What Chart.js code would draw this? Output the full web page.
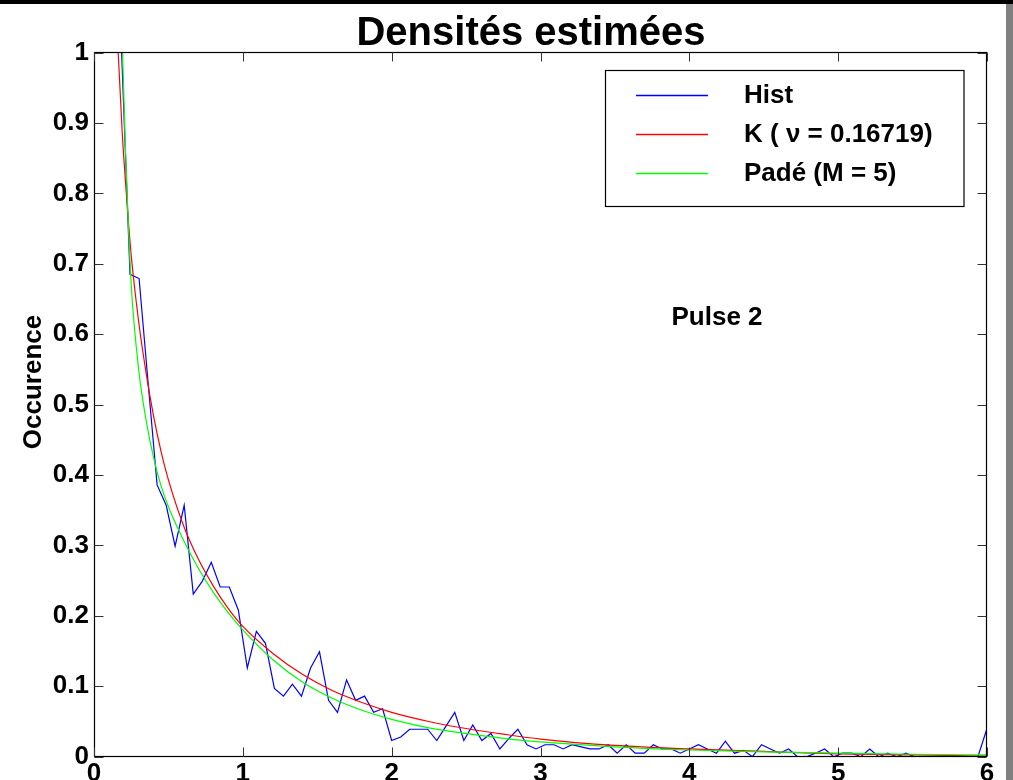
<!DOCTYPE html>
<html lang="fr">
<head>
<meta charset="utf-8">
<title>Densités estimées</title>
<script src="https://cdn.jsdelivr.net/npm/chart.js@4.4.1/dist/chart.umd.min.js"></script>
<style>
  html, body { margin: 0; padding: 0; background: #fff; }
  canvas { display: block; }
</style>
</head>
<body>
<canvas id="densityChart" width="1013" height="780"></canvas>
<script>
// Histogram: 100 bin positions between 0 and 6
const histX = [
  0, 0.061, 0.121, 0.182, 0.242, 0.303, 0.364, 0.424, 0.485, 0.545,
  0.606, 0.667, 0.727, 0.788, 0.848, 0.909, 0.970, 1.030, 1.091, 1.152,
  1.212, 1.273, 1.333, 1.394, 1.455, 1.515, 1.576, 1.636, 1.697, 1.758,
  1.818, 1.879, 1.939, 2.000, 2.061, 2.121, 2.182, 2.242, 2.303, 2.364,
  2.424, 2.485, 2.545, 2.606, 2.667, 2.727, 2.788, 2.848, 2.909, 2.970,
  3.030, 3.091, 3.152, 3.212, 3.273, 3.333, 3.394, 3.455, 3.515, 3.576,
  3.636, 3.697, 3.758, 3.818, 3.879, 3.939, 4.000, 4.061, 4.121, 4.182,
  4.242, 4.303, 4.364, 4.424, 4.485, 4.545, 4.606, 4.667, 4.727, 4.788,
  4.848, 4.909, 4.970, 5.030, 5.091, 5.152, 5.212, 5.273, 5.333, 5.394,
  5.455, 5.515, 5.576, 5.636, 5.697, 5.758, 5.818, 5.879, 5.939, 6.000
];
const histY = [
  3.0, 2.0, 1.4, 1.02, 0.685, 0.679, 0.53, 0.386, 0.357, 0.299,
  0.357, 0.231, 0.249, 0.276, 0.241, 0.241, 0.208, 0.126, 0.178, 0.161,
  0.097, 0.086, 0.103, 0.086, 0.126, 0.149, 0.080, 0.063, 0.109, 0.080,
  0.086, 0.063, 0.068, 0.023, 0.028, 0.039, 0.039, 0.039, 0.023, 0.043,
  0.063, 0.023, 0.045, 0.023, 0.033, 0.011, 0.026, 0.039, 0.017, 0.011,
  0.017, 0.017, 0.011, 0.017, 0.014, 0.011, 0.011, 0.017, 0.005, 0.017,
  0.005, 0.005, 0.017, 0.011, 0.011, 0.005, 0.011, 0.017, 0.011, 0.005,
  0.022, 0.005, 0.009, 0, 0.017, 0.011, 0.005, 0.011, 0, 0,
  0.005, 0.011, 0, 0.005, 0.005, 0, 0.011, 0, 0.005, 0,
  0.005, 0, 0, 0, 0, 0, 0, 0, 0, 0.040
];

// K distribution curve
const kX = [0.14, 0.16, 0.19, 0.22, 0.25, 0.30, 0.35, 0.40, 0.45, 0.50,
            0.60, 0.70, 0.80, 0.90, 1.0, 1.2, 1.4, 1.6, 1.8, 2.0,
            2.25, 2.5, 2.75, 3.0, 3.5, 4.0, 4.5, 5.0, 5.5, 6.0];
const kY = [1.12, 1.01, 0.885, 0.792, 0.712, 0.618, 0.545, 0.484, 0.434, 0.393,
            0.329, 0.281, 0.243, 0.211, 0.185, 0.147, 0.117, 0.094, 0.077, 0.063,
            0.050, 0.040, 0.032, 0.025, 0.016, 0.011, 0.0075, 0.004, 0.0025, 0.001];

// Padé approximation curve
const padeX = [0.18, 0.192, 0.21, 0.23, 0.25, 0.30, 0.35, 0.40, 0.45, 0.50,
               0.60, 0.70, 0.80, 0.90, 1.0, 1.2, 1.4, 1.6, 1.8, 2.0,
               2.25, 2.5, 2.75, 3.0, 3.5, 4.0, 4.5, 5.0, 5.5, 6.0];
const padeY = [1.1, 1.0, 0.87, 0.76, 0.67, 0.55, 0.478, 0.425, 0.385, 0.355,
               0.308, 0.268, 0.234, 0.205, 0.18, 0.138, 0.106, 0.083, 0.066, 0.053,
               0.041, 0.033, 0.026, 0.021, 0.014, 0.0095, 0.0068, 0.005, 0.0035, 0.0025];

const xTickValues = [0, 1, 2, 3, 4, 5, 6];
const yTickValues = [0, 0.1, 0.2, 0.3, 0.4, 0.5, 0.6, 0.7, 0.8, 0.9, 1];

const seriesLabels = ["Hist", "K ( \u03bd = 0.16719)", "Padé (M = 5)"];
const seriesColors = ["#0000ff", "#ff0000", "#00ff00"];
const titleText = "Densités estimées";
const yAxisLabel = "Occurence";
const noteText = "Pulse 2";
const noteAt = { x: 3.88, y: 0.613 };

const FONT = "'Liberation Sans', Arial, Helvetica, sans-serif";

const toPoints = (xs, ys) => xs.map((v, i) => ({ x: v, y: ys[i] }));

// MATLAB-like frame: boxed axes, inward ticks, legend box, texts
const matlabFrame = {
    id: "matlabFrame",
    beforeDraw(chart) {
        const { ctx, width, height } = chart;
        ctx.save();
        ctx.fillStyle = "#fff";
        ctx.fillRect(0, 0, width, height);
        ctx.fillStyle = "#000";
        ctx.fillRect(0, 0, width, 4);
        ctx.fillStyle = "#808080";
        ctx.fillRect(width - 7, 4, 7, height - 4);
        ctx.restore();
    },
    afterDatasetsDraw(chart) {
        const { ctx, chartArea: a, scales: { x, y } } = chart;
        const L = Math.round(a.left) + 0.5, R = Math.round(a.right) - 0.5;
        const T = Math.round(a.top) - 0.5, B = Math.round(a.bottom) - 0.5;
        ctx.save();
        ctx.strokeStyle = "#000";
        ctx.lineWidth = 1.2;
        ctx.strokeRect(L, T, R - L, B - T);

        // inward tick marks on all four sides
        ctx.strokeStyle = "#333";
        ctx.lineWidth = 1;
        ctx.beginPath();
        xTickValues.forEach(v => {
            const px = Math.round(x.getPixelForValue(v)) + 0.5;
            ctx.moveTo(px, B); ctx.lineTo(px, B - 9);
            ctx.moveTo(px, T); ctx.lineTo(px, T + 9);
        });
        yTickValues.forEach(v => {
            const py = Math.round(y.getPixelForValue(v)) + 0.5;
            ctx.moveTo(L, py); ctx.lineTo(L + 9, py);
            ctx.moveTo(R, py); ctx.lineTo(R - 9, py);
        });
        ctx.stroke();

        // legend box
        ctx.fillStyle = "#fff";
        ctx.fillRect(605.5, 70.5, 358.5, 136);
        ctx.strokeStyle = "#000";
        ctx.lineWidth = 1.2;
        ctx.strokeRect(605.5, 70.5, 358.5, 136);
        const rows = [95.5, 134.5, 173.5];
        ctx.font = `bold 26px ${FONT}`;
        ctx.textBaseline = "alphabetic";
        ctx.textAlign = "left";
        seriesLabels.forEach((label, i) => {
            ctx.strokeStyle = seriesColors[i];
            ctx.lineWidth = 1.3;
            ctx.beginPath();
            ctx.moveTo(636, rows[i]);
            ctx.lineTo(708, rows[i]);
            ctx.stroke();
            ctx.fillStyle = "#000";
            ctx.fillText(label, 744, rows[i] + 7.5);
        });

        // annotation in data coordinates
        ctx.fillText(noteText, x.getPixelForValue(noteAt.x), y.getPixelForValue(noteAt.y));
        ctx.restore();
    },
    afterDraw(chart) {
        const { ctx } = chart;
        ctx.save();
        ctx.fillStyle = "#000";
        ctx.textAlign = "center";
        ctx.textBaseline = "alphabetic";
        ctx.font = `bold 40px ${FONT}`;
        ctx.fillText(titleText, 531, 45);

        ctx.translate(34, 382);
        ctx.rotate(-Math.PI / 2);
        ctx.font = `bold 26px ${FONT}`;
        ctx.textBaseline = "middle";
        ctx.fillText(yAxisLabel, 0, 0);
        ctx.restore();
    }
};

const tickFont = { family: FONT, size: 26, weight: "bold" };

new Chart(document.getElementById("densityChart"), {
    type: "line",
    data: {
        datasets: [
            {
                label: seriesLabels[0],
                data: toPoints(histX, histY),
                borderColor: seriesColors[0],
                borderWidth: 1.2,
                pointRadius: 0,
                tension: 0,
                order: 3
            },
            {
                label: seriesLabels[1],
                data: toPoints(kX, kY),
                borderColor: seriesColors[1],
                borderWidth: 1.2,
                pointRadius: 0,
                cubicInterpolationMode: "monotone",
                order: 2
            },
            {
                label: seriesLabels[2],
                data: toPoints(padeX, padeY),
                borderColor: seriesColors[2],
                borderWidth: 1.2,
                pointRadius: 0,
                cubicInterpolationMode: "monotone",
                order: 1
            }
        ]
    },
    options: {
        responsive: false,
        animation: false,
        devicePixelRatio: 1,
        layout: { padding: { top: 52.5, right: 26, left: 0, bottom: 0 } },
        plugins: {
            legend: { display: false },
            title: { display: false },
            tooltip: { enabled: false }
        },
        scales: {
            x: {
                type: "linear",
                min: 0,
                max: 6,
                grid: { display: false, drawTicks: false },
                border: { display: false },
                ticks: {
                    color: "#000",
                    font: tickFont,
                    padding: 2,
                    maxRotation: 0,
                    autoSkip: false,
                    callback: v => String(v)
                },
                afterBuildTicks: s => { s.ticks = xTickValues.map(v => ({ value: v })); },
                afterFit: s => { s.height = 23.3; }
            },
            y: {
                min: 0,
                max: 1,
                grid: { display: false, drawTicks: false },
                border: { display: false },
                ticks: {
                    color: "#000",
                    font: tickFont,
                    padding: 5,
                    autoSkip: false,
                    callback: v => String(v)
                },
                afterBuildTicks: s => { s.ticks = yTickValues.map(v => ({ value: v })); },
                afterFit: s => { s.width = 94; }
            }
        }
    },
    plugins: [matlabFrame]
});
</script>
</body>
</html>
